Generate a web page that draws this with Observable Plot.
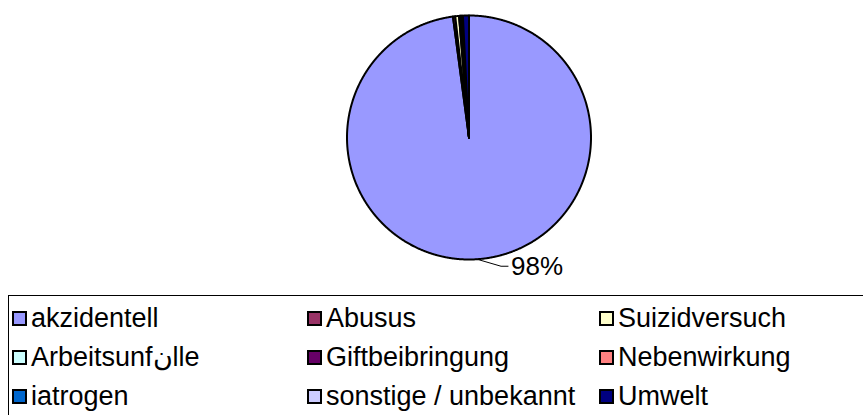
<!DOCTYPE html>
<html>
<head>
<meta charset="utf-8">
<script src="https://cdn.jsdelivr.net/npm/d3@7"></script>
<script src="https://cdn.jsdelivr.net/npm/@observablehq/plot@0.6"></script>
<style>
  html, body { margin: 0; padding: 0; background: #fff; overflow: hidden; }
  #wrap { position: relative; width: 863px; height: 415px; overflow: hidden; font-family: "Liberation Sans", Arial, sans-serif; }
  #legend { position: absolute; left: 8px; top: 295px; width: 900px; height: 200px; border: 1.5px solid #000; box-sizing: border-box; }
  .item { position: absolute; display: flex; align-items: center; height: 30px; white-space: nowrap; font-size: 27px; color: #000; }
  .sw { width: 11px; height: 11px; border: 2px solid #000; margin-right: 4px; flex: none; }
</style>
</head>
<body>
<div id="wrap">
  <div id="chart"></div>
  <div id="legend"></div>
</div>
<script>
// ---- data ----
const categories = ["akzidentell", "Abusus", "Suizidversuch", "Arbeitsunfنlle", "Giftbeibringung", "Nebenwirkung", "iatrogen", "sonstige / unbekannt", "Umwelt"];
const values = [97.9, 0.3, 0.5, 0.1, 0.1, 0.1, 0.1, 0.1, 0.8];
const colors = ["#9999FF", "#993366", "#FFFFCC", "#CCFFFF", "#660066", "#FF8080", "#0066CC", "#CCCCFF", "#000080"];
const labelMin = 0.05; // only slices above this share get a label

// ---- layout ----
const W = 863, H = 293;
const cx = 468.5, cy = 137, R = 122;

const total = d3.sum(values);
const pie = d3.pie().sort(null).value(d => d.value);
const arcs = pie(categories.map((name, i) => ({name, value: values[i]})));

// polygon points for each slice (unit radius, angle clockwise from 12 o'clock)
const pts = [];
for (const a of arcs) {
  const name = a.data.name;
  pts.push({name, x: 0, y: 0});
  const n = Math.max(2, Math.ceil((a.endAngle - a.startAngle) / (Math.PI / 720)));
  for (let k = 0; k <= n; k++) {
    const t = a.startAngle + (a.endAngle - a.startAngle) * k / n;
    pts.push({name, x: Math.sin(t), y: -Math.cos(t)});
  }
  pts.push({name, x: 0, y: 0});
}

// labels with leader lines
const fmt = d3.format(".0%");
const labels = [];
const leaders = [];
const lead1 = [24 / R, 7 / R], lead2 = 7 / R, textGap = 3 / R;
for (const a of arcs) {
  const share = a.data.value / total;
  if (share < labelMin) continue;
  const m = (a.startAngle + a.endAngle) / 2;
  const ex = Math.sin(m), ey = -Math.cos(m);
  const bx = ex + lead1[0], by = ey + lead1[1];
  const tx = bx + lead2;
  leaders.push({name: a.data.name, x: ex, y: ey}, {name: a.data.name, x: bx, y: by}, {name: a.data.name, x: tx, y: by});
  labels.push({x: tx + textGap, y: by, text: fmt(share)});
}

const plot = Plot.plot({
  width: W,
  height: H,
  margin: 0,
  x: {domain: [-cx / R, (W - cx) / R], range: [0, W], axis: null},
  y: {domain: [-cy / R, (H - cy) / R], range: [0, H], axis: null},
  color: {domain: categories, range: colors},
  marks: [
    Plot.line(pts, {x: "x", y: "y", z: "name", fill: "name", stroke: "#000", strokeWidth: 2, strokeLinejoin: "round", curve: "linear"}),
    Plot.line(leaders, {x: "x", y: "y", z: "name", stroke: "#000", strokeWidth: 1}),
    Plot.text(labels, {x: "x", y: "y", text: "text", textAnchor: "start", fontSize: 26, fontFamily: "Liberation Sans, Arial, sans-serif", fill: "#000"})
  ]
});
document.getElementById("chart").appendChild(plot);

// ---- legend ----
const colX = [3, 298, 590];
const rowY = [7, 46, 85];
const legend = document.getElementById("legend");
categories.forEach((name, i) => {
  const el = document.createElement("div");
  el.className = "item";
  el.style.left = colX[i % 3] + "px";
  el.style.top = rowY[Math.floor(i / 3)] + "px";
  const sw = document.createElement("span");
  sw.className = "sw";
  sw.style.background = colors[i];
  const tx = document.createElement("span");
  tx.textContent = name;
  el.appendChild(sw);
  el.appendChild(tx);
  legend.appendChild(el);
});
</script>
</body>
</html>
